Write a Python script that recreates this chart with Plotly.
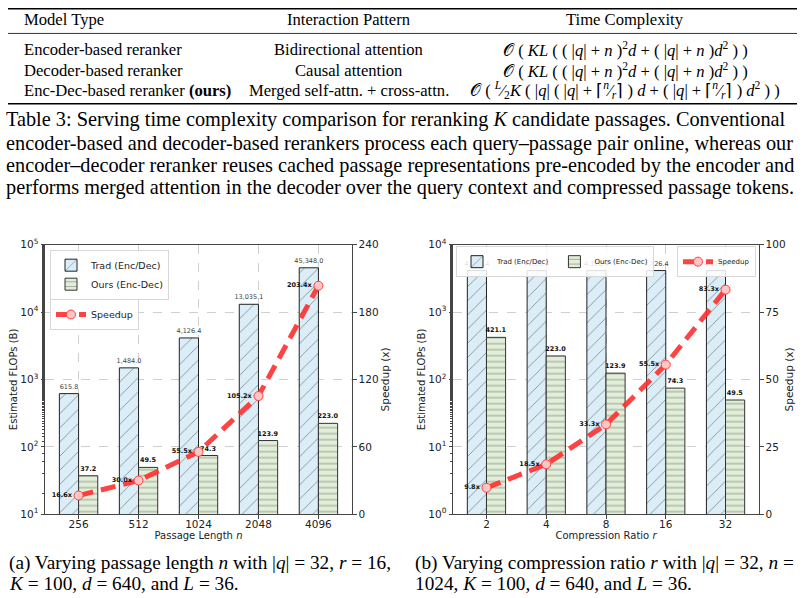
import plotly.graph_objects as go

# ---------------- data ----------------
len_cats = ["256", "512", "1024", "2048", "4096"]
len_trad = [615.8, 1484.0, 4126.4, 13035.1, 45348.0]
len_ours = [37.2, 49.5, 74.3, 123.9, 223.0]
len_speed = [16.6, 30.0, 55.5, 105.2, 203.4]
len_flops_exponents = [1, 2, 3, 4, 5]

ratio_cats = ["2", "4", "8", "16", "32"]
ratio_trad = [4126.4, 4126.4, 4126.4, 4126.4, 4126.4]
ratio_ours = [421.1, 223.0, 123.9, 74.3, 49.5]
ratio_speed = [9.8, 18.5, 33.3, 55.5, 83.3]
ratio_flops_exponents = [0, 1, 2, 3, 4]

table_header = ["Model Type", "Interaction Pattern", "Time Complexity"]
table_models = ["Encoder-based reranker", "Decoder-based reranker", "Enc-Dec-based reranker <b>(ours)</b>"]
table_patterns = ["Bidirectional attention", "Causal attention", "Merged self-attn. + cross-attn."]
table_complexity = [
    "𝒪 ( <i>KL</i> ( ( |<i>q</i>| + <i>n</i> )<sup>2</sup><i>d</i> + ( |<i>q</i>| + <i>n</i> )<i>d</i><sup>2</sup> ) )",
    "𝒪 ( <i>KL</i> ( ( |<i>q</i>| + <i>n</i> )<sup>2</sup><i>d</i> + ( |<i>q</i>| + <i>n</i> )<i>d</i><sup>2</sup> ) )",
    "𝒪 ( <sup><i>L</i></sup>⁄<sub>2</sub><i>K</i> ( |<i>q</i>| ( |<i>q</i>| + ⌈<sup><i>n</i></sup>⁄<sub><i>r</i></sub>⌉ ) <i>d</i> + ( |<i>q</i>| + ⌈<sup><i>n</i></sup>⁄<sub><i>r</i></sub>⌉ ) <i>d</i><sup>2</sup> ) )",
]
caption_lines = [
    "Table 3: Serving time complexity comparison for reranking <i>K</i> candidate passages. Conventional",
    "encoder-based and decoder-based rerankers process each query–passage pair online, whereas our",
    "encoder–decoder reranker reuses cached passage representations pre-encoded by the encoder and",
    "performs merged attention in the decoder over the query context and compressed passage tokens.",
]
sub_a = ["(a) Varying passage length <i>n</i> with |<i>q</i>| = 32, <i>r</i> = 16,",
         "<i>K</i> = 100, <i>d</i> = 640, and <i>L</i> = 36."]
sub_b = ["(b) Varying compression ratio <i>r</i> with |<i>q</i>| = 32, <i>n</i> =",
         "1024, <i>K</i> = 100, <i>d</i> = 640, and <i>L</i> = 36."]

# ---------------- geometry helpers ----------------
W, H = 806, 598
def px(x): return x / W
def py(y):
    s = max((y - 8.7) / 0.971, 0.8)
    return 1 - s / H

SANS = "DejaVu Sans"
SERIF = "Liberation Serif"
TRAD_FILL = "#dbeef8"
OURS_FILL = "#e2efd8"
RED = "rgba(255,45,45,0.9)"

fig = go.Figure()

def add_panel(cats, trad, ours, speed, xa, ya, ya2, legA, legB):
    xs = list(range(len(cats)))
    fig.add_trace(go.Bar(
        x=xs, y=trad, name="Trad (Enc/Dec)", xaxis=xa, yaxis=ya,
        offset=-0.32, width=0.32, legend=legA,
        marker=dict(color=TRAD_FILL, line=dict(color="#222", width=1),
                    pattern=dict(shape="/", fgcolor="#333", bgcolor=TRAD_FILL, size=10, solidity=0.09)),
        texttemplate="%{y:,.1f}", textposition="outside", constraintext="none",
        textfont=dict(family=SANS, size=6.5, color="#444"), cliponaxis=False,
    ))
    fig.add_trace(go.Bar(
        x=xs, y=ours, name="Ours (Enc-Dec)", xaxis=xa, yaxis=ya,
        offset=0.0, width=0.32, legend=legA,
        marker=dict(color=OURS_FILL, line=dict(color="#333", width=1),
                    pattern=dict(shape="-", fgcolor="#333", bgcolor=OURS_FILL, size=6, solidity=0.15)),
        texttemplate="<b>%{y:,.1f}</b>", textposition="outside", constraintext="none",
        textfont=dict(family=SANS, size=6.5, color="#111"), cliponaxis=False,
    ))
    fig.add_trace(go.Scatter(
        x=xs, y=speed, name="Speedup", xaxis=xa, yaxis=ya2, legend=legB,
        mode="lines+markers+text",
        line=dict(color=RED, width=5, dash="15px,8px"),
        marker=dict(size=9, color="#ffc4c4", line=dict(color="#ff4040", width=1)),
        texttemplate="<b>%{y:.1f}x</b>", textposition="middle left",
        textfont=dict(family=SANS, size=6.5, color="#111"), cliponaxis=False,
    ))

add_panel(len_cats, len_trad, len_ours, len_speed, "x", "y", "y2", "legend", "legend2")
add_panel(ratio_cats, ratio_trad, ratio_ours, ratio_speed, "x2", "y3", "y4", "legend3", "legend4")

axis_common = dict(showline=True, linecolor="#444", linewidth=1, ticks="outside", ticklen=3.5,
                   tickcolor="#444", tickfont=dict(family=SANS, size=10.5, color="#222"))
grid = dict(showgrid=True, gridcolor="#cfcfcf", griddash="dash", gridwidth=0.8)

def xaxis(dom, cats, title, anchor):
    return dict(domain=dom, range=[-0.56, len(cats) - 1 + 0.56], tickvals=list(range(len(cats))),
                ticktext=cats, anchor=anchor, mirror=True, zeroline=False, ticklabelstandoff=-3,
                title=dict(text=title, font=dict(family=SANS, size=10, color="#222"), standoff=0),
                **axis_common, **grid)

def ylog(dom, exps, anchor):
    return dict(domain=dom, type="log", range=[exps[0], exps[-1]], anchor=anchor,
                tickvals=[10 ** e for e in exps], ticktext=["10<sup>%d</sup>" % e for e in exps],
                title=dict(text="Estimated FLOPs (B)", font=dict(family=SANS, size=10, color="#222"), standoff=0),
                minor=dict(ticks="outside", ticklen=2, tickcolor="#444", showgrid=False),
                zeroline=False, **axis_common, **grid)

def ylin(over, rng, dt, anchor, standoff):
    return dict(overlaying=over, side="right", range=rng, dtick=dt, anchor=anchor, showgrid=False,
                zeroline=False,
                title=dict(text="Speedup (x)", font=dict(family=SANS, size=10.5, color="#222"), standoff=standoff),
                **axis_common)

ydom = [py(512), py(244)]
leg_common = dict(bgcolor="rgba(255,255,255,0.85)", bordercolor="#d8d8d8", borderwidth=1, itemwidth=30)
fig.update_layout(
    width=W, height=H, margin=dict(l=0, r=0, t=0, b=0),
    paper_bgcolor="white", plot_bgcolor="white", barmode="overlay",
    xaxis=xaxis([px(45), px(352)], len_cats, "Passage Length <i>n</i>", "y"),
    yaxis=ylog(ydom, len_flops_exponents, "x"),
    yaxis2=ylin("y", [0, 240], 60, "x", 3),
    xaxis2=xaxis([px(453), px(759)], ratio_cats, "Compression Ratio <i>r</i>", "y3"),
    yaxis3=ylog(ydom, ratio_flops_exponents, "x2"),
    yaxis4=ylin("y3", [0, 100], 25, "x2", 1),
    legend=dict(x=px(50), y=py(249), xanchor="left", yanchor="top",
                font=dict(family=SANS, size=9.5, color="#222"), **leg_common),
    legend2=dict(x=px(50), y=py(298), xanchor="left", yanchor="top",
                 font=dict(family=SANS, size=9.5, color="#222"), **leg_common),
    legend3=dict(x=px(456), y=py(245.5), xanchor="left", yanchor="top", orientation="h",
                 font=dict(family=SANS, size=7, color="#222"), **leg_common),
    legend4=dict(x=px(756), y=py(245.5), xanchor="right", yanchor="top",
                 font=dict(family=SANS, size=7, color="#222"), **leg_common),
)

ann = []
def text(x, y, s, size=16.6, xanchor="left", family=SERIF):
    ann.append(dict(x=px(x), y=py(y), xref="paper", yref="paper", text=s, showarrow=False,
                    xanchor=xanchor, yanchor="middle", font=dict(family=family, size=size, color="black")))

# table
col_x = [22, 349, 625]
hy = 20
text(col_x[0], hy, table_header[0])
text(col_x[1], hy, table_header[1], xanchor="center")
text(col_x[2], hy, table_header[2], xanchor="center")
row_y = [50, 71, 91]
for i in range(3):
    text(col_x[0], row_y[i], table_models[i])
    text(col_x[1], row_y[i], table_patterns[i], xanchor="center")
    text(col_x[2], row_y[i], table_complexity[i], xanchor="center")

shapes = []
for y, w in [(5, 1.5), (34, 0.8), (104, 1.5)]:
    shapes.append(dict(type="line", xref="paper", yref="paper", x0=px(8), x1=px(797), y0=py(y), y1=py(y),
                       line=dict(color="black", width=w)))

cap_y = [120, 143, 165, 187]
for s, y in zip(caption_lines, cap_y):
    text(4, y, s, size=20.3)

for s, y in zip(sub_a, [561, 581]):
    text(7, y, s, size=19.3)
for s, y in zip(sub_b, [561, 581]):
    text(413, y, s, size=19.3)

fig.update_layout(annotations=ann, shapes=shapes)
fig.write_html("out.html")
